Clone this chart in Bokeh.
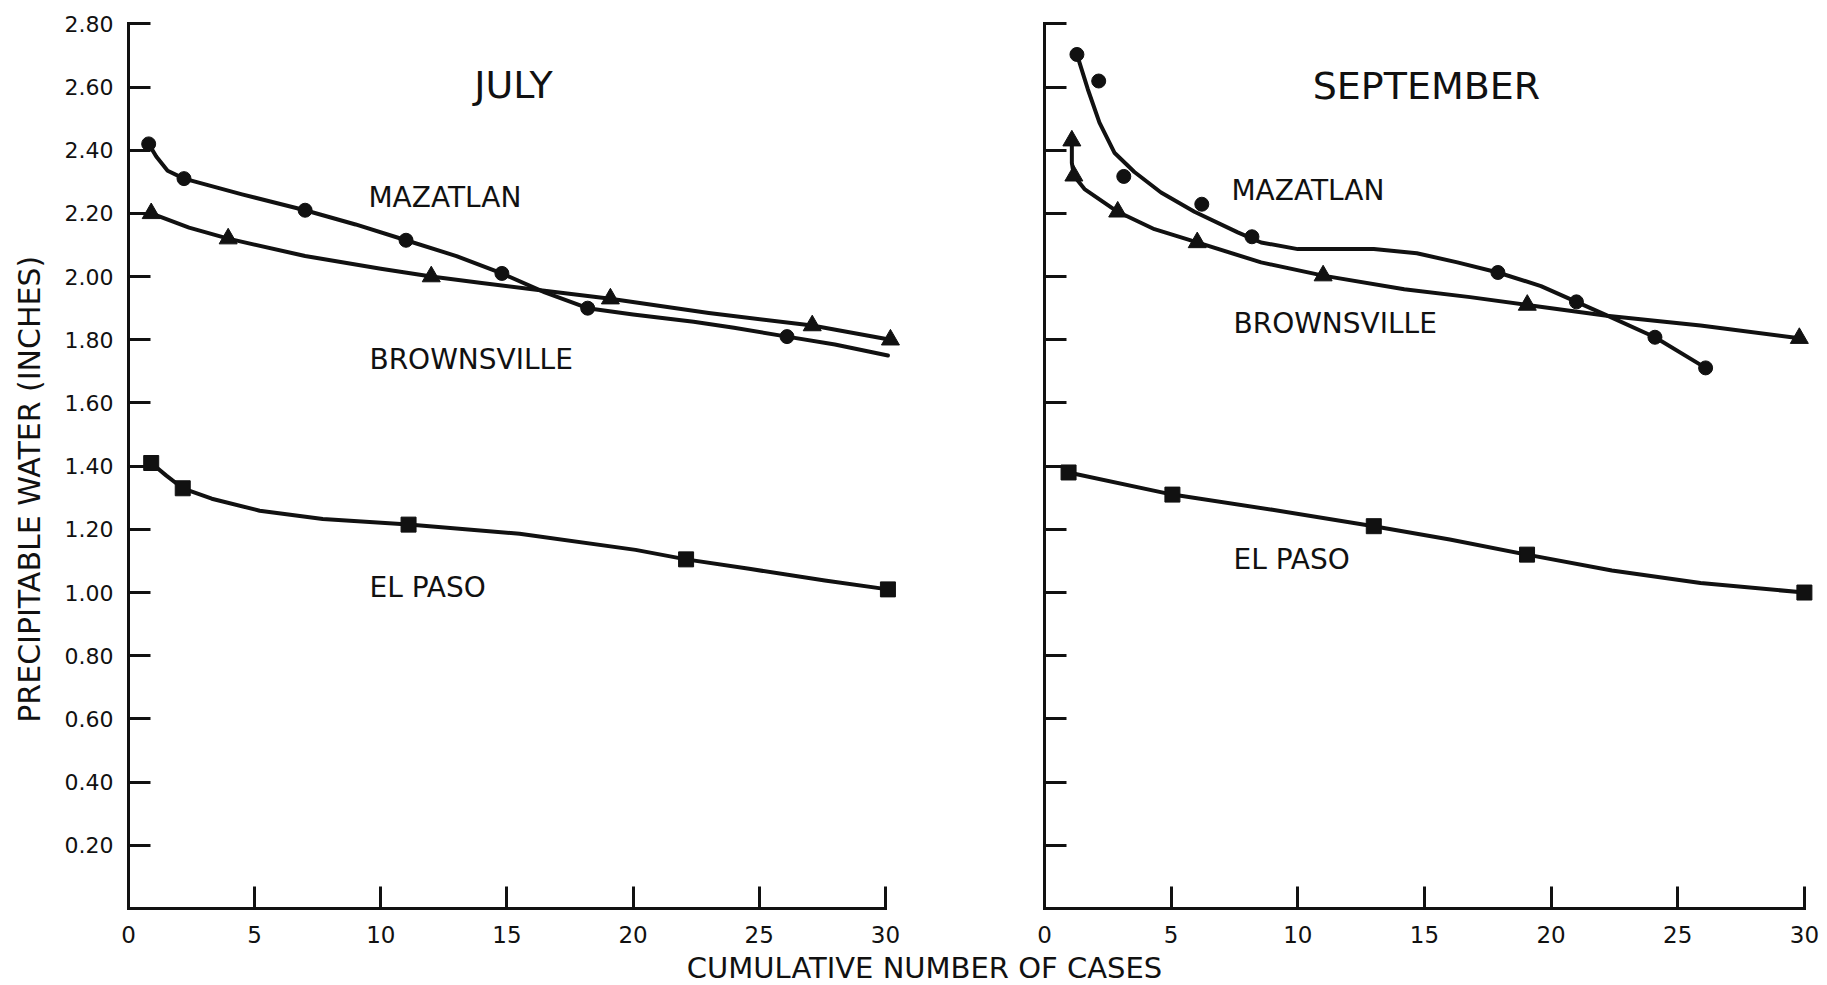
import math
from bokeh.plotting import figure
from bokeh.models import FixedTicker, Label, Range1d, NumeralTickFormatter, CustomJSTickFormatter
from bokeh.layouts import row, column
from bokeh.embed import file_html
from bokeh.resources import INLINE

# ---------------- data ----------------
x_ticks = [0, 5, 10, 15, 20, 25, 30]
y_ticks = [0.2, 0.4, 0.6, 0.8, 1.0, 1.2, 1.4, 1.6, 1.8, 2.0, 2.2, 2.4, 2.6, 2.8]

# JULY
jul_maz_x = [0.8, 2.2, 7.0, 11.0, 14.8, 18.2, 26.1]
jul_maz_y = [2.42, 2.31, 2.21, 2.115, 2.01, 1.90, 1.81]
jul_maz_curve_x = [0.8, 1.1, 1.55, 2.2, 4.5, 7.0, 9.0, 11.0, 13.0, 14.8, 16.5, 18.2, 20.0, 22.4, 24.0, 26.1, 28.0, 30.1]
jul_maz_curve_y = [2.42, 2.38, 2.335, 2.31, 2.26, 2.21, 2.165, 2.115, 2.065, 2.01, 1.95, 1.90, 1.88, 1.857, 1.838, 1.81, 1.785, 1.75]

jul_bro_x = [0.9, 3.95, 12.0, 19.1, 27.1, 30.2]
jul_bro_y = [2.20, 2.12, 2.00, 1.93, 1.845, 1.80]
jul_bro_curve_x = [0.9, 2.4, 3.95, 7.0, 10.0, 12.0, 14.0, 16.0, 19.1, 23.0, 27.1, 30.2]
jul_bro_curve_y = [2.20, 2.155, 2.12, 2.065, 2.025, 2.00, 1.98, 1.96, 1.93, 1.885, 1.845, 1.80]

jul_elp_x = [0.9, 2.15, 11.1, 22.1, 30.1]
jul_elp_y = [1.41, 1.33, 1.215, 1.105, 1.01]
jul_elp_curve_x = [0.9, 1.5, 2.15, 3.3, 5.2, 7.7, 11.1, 15.5, 20.1, 22.1, 24.6, 27.6, 30.1]
jul_elp_curve_y = [1.41, 1.37, 1.33, 1.297, 1.259, 1.233, 1.215, 1.186, 1.135, 1.105, 1.075, 1.038, 1.01]

# SEPTEMBER
sep_maz_x = [1.28, 2.14, 3.13, 6.21, 8.19, 17.9, 21.0, 24.1, 26.1]
sep_maz_y = [2.703, 2.619, 2.317, 2.229, 2.126, 2.013, 1.92, 1.808, 1.711]
sep_maz_curve_x = [1.28, 1.71, 2.17, 2.76, 3.55, 4.6, 5.92, 7.63, 8.55, 10.0, 11.84, 13.0, 14.7, 16.3, 17.9, 19.6, 21.0, 22.2, 24.1, 26.1]
sep_maz_curve_y = [2.703, 2.593, 2.487, 2.392, 2.331, 2.266, 2.205, 2.14, 2.108, 2.087, 2.087, 2.087, 2.074, 2.045, 2.013, 1.97, 1.92, 1.877, 1.808, 1.711]

sep_bro_x = [1.08, 1.16, 2.89, 6.03, 11.0, 19.06, 29.8]
sep_bro_y = [2.43, 2.319, 2.205, 2.108, 2.003, 1.91, 1.805]
sep_bro_curve_x = [1.08, 1.08, 1.16, 1.58, 2.89, 4.34, 6.03, 8.55, 11.0, 14.2, 16.8, 19.06, 22.2, 25.9, 29.8]
sep_bro_curve_y = [2.43, 2.36, 2.319, 2.277, 2.205, 2.15, 2.108, 2.045, 2.003, 1.96, 1.935, 1.91, 1.876, 1.845, 1.805]

sep_elp_x = [0.95, 5.05, 13.0, 19.05, 30.0]
sep_elp_y = [1.38, 1.31, 1.21, 1.12, 1.00]
sep_elp_curve_x = [0.95, 5.05, 9.0, 13.0, 16.0, 19.05, 22.4, 25.9, 30.0]
sep_elp_curve_y = [1.38, 1.31, 1.262, 1.21, 1.168, 1.12, 1.07, 1.03, 1.00]

# ---------------- style ----------------
FONT = "DejaVu Sans"
INK = "#111111"
ROW_H = 950
TOP = 17          # frame top
FRAME_H = 891     # 2.82 units * 316 px


def make_panel(width, b_left, b_right, x_end, show_ylabels):
    p = figure(width=width, height=ROW_H,
               x_range=Range1d(0, x_end), y_range=Range1d(0, 2.82),
               output_backend="svg", toolbar_location=None,
               min_border_left=b_left, min_border_right=b_right,
               min_border_top=TOP, min_border_bottom=ROW_H - TOP - FRAME_H)
    p.grid.visible = False
    p.outline_line_color = None
    p.background_fill_color = "white"
    p.border_fill_color = "white"

    xa = p.xaxis[0]
    xa.ticker = FixedTicker(ticks=x_ticks)
    xa.bounds = (x_ticks[0], x_ticks[-1])
    ya = p.yaxis[0]
    ya.ticker = FixedTicker(ticks=y_ticks)
    ya.bounds = (0, y_ticks[-1])
    for ax in (xa, ya):
        ax.axis_line_width = 3
        ax.axis_line_color = INK
        ax.axis_line_cap = "square"
        ax.major_tick_line_width = 3
        ax.major_tick_line_color = INK
        ax.major_tick_in = 22
        ax.major_tick_out = 0
        ax.minor_tick_line_color = None
        ax.major_label_text_font = FONT
        ax.major_label_text_color = INK
    xa.major_label_text_font_size = "23px"
    xa.major_label_standoff = 17
    ya.major_label_text_font_size = "22px"
    ya.major_label_standoff = 15
    if show_ylabels:
        ya.formatter = NumeralTickFormatter(format="0.00")
    else:
        ya.formatter = CustomJSTickFormatter(code="return '';")
    return p


def add_series(p, cx, cy, mx, my, marker, size):
    p.line(cx, cy, line_width=4, line_color=INK, line_join="round", line_cap="round")
    p.scatter(mx, my, marker=marker, size=size, fill_color=INK, line_color=INK)


def add_text(p, x, y, txt, size, align="left"):
    p.add_layout(Label(x=x, y=y, text=txt, text_font=FONT, text_font_size=size,
                       text_color=INK, text_align=align, text_baseline="alphabetic"))


def blank_fig(w, h):
    f = figure(width=w, height=h, x_range=Range1d(0, w), y_range=Range1d(0, h),
               x_axis_type=None, y_axis_type=None, output_backend="svg",
               toolbar_location=None, min_border=0)
    f.grid.visible = False
    f.outline_line_color = None
    f.background_fill_color = "white"
    f.border_fill_color = "white"
    return f


# y-axis title strip
ytitle = blank_fig(60, ROW_H)
ytitle.add_layout(Label(x=29, y=ROW_H - 503, text="PRECIPITABLE WATER (INCHES)", angle=math.pi / 2,
                        text_font=FONT, text_font_size="30px", text_color=INK,
                        text_align="center", text_baseline="middle"))

# left panel: JULY (frame from x=128 to 905)
left = make_panel(908, 68, 63, 777 / 25.23, True)
add_series(left, jul_maz_curve_x, jul_maz_curve_y, jul_maz_x, jul_maz_y, "circle", 14)
add_series(left, jul_bro_curve_x, jul_bro_curve_y, jul_bro_x, jul_bro_y, "triangle", 18)
add_series(left, jul_elp_curve_x, jul_elp_curve_y, jul_elp_x, jul_elp_y, "square", 15)
add_text(left, 15.26, 2.605, "JULY", "38px", "center")
add_text(left, 9.51, 2.251, "MAZATLAN", "28px")
add_text(left, 9.55, 1.739, "BROWNSVILLE", "28px")
add_text(left, 9.55, 1.015, "EL PASO", "28px")

# right panel: SEPTEMBER (frame from x=1044 to 1819)
right = make_panel(859, 76, 8, 775 / 25.33, False)
add_series(right, sep_maz_curve_x, sep_maz_curve_y, sep_maz_x, sep_maz_y, "circle", 14)
add_series(right, sep_bro_curve_x, sep_bro_curve_y, sep_bro_x, sep_bro_y, "triangle", 18)
add_series(right, sep_elp_curve_x, sep_elp_curve_y, sep_elp_x, sep_elp_y, "square", 15)
add_text(right, 15.08, 2.602, "SEPTEMBER", "38px", "center")
add_text(right, 7.38, 2.274, "MAZATLAN", "28px")
add_text(right, 7.46, 1.851, "BROWNSVILLE", "28px")
add_text(right, 7.46, 1.105, "EL PASO", "28px")

# bottom strip with the shared x-axis title
BOT_H = 34
bottom = blank_fig(1827, BOT_H)
bottom.add_layout(Label(x=924, y=BOT_H / 2, text="CUMULATIVE NUMBER OF CASES", text_font=FONT,
                        text_font_size="29px", text_color=INK, text_align="center",
                        text_baseline="middle"))

layout = column(row(ytitle, left, right), bottom)
open("out.html", "w").write(file_html(layout, INLINE))
